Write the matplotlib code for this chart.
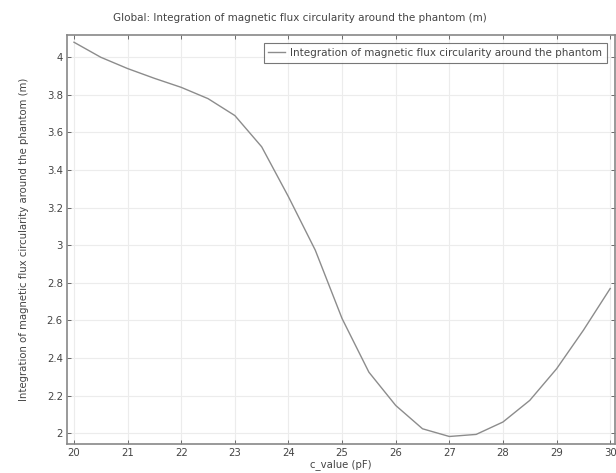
import matplotlib
matplotlib.use('agg')
import matplotlib.pyplot as plt

c_value = [20, 20.5, 21, 21.5, 22, 22.5, 23, 23.5, 24, 24.5, 25, 25.5, 26,
           26.5, 27, 27.5, 28, 28.5, 29, 29.5, 30]
flux = [4.08, 4.00, 3.94, 3.888, 3.84, 3.78, 3.69, 3.524, 3.258, 2.974, 2.61,
        2.325, 2.148, 2.024, 1.983, 1.994, 2.06, 2.175, 2.343, 2.548, 2.77]

x_ticks = list(range(20, 31))
y_ticks = [2, 2.2, 2.4, 2.6, 2.8, 3, 3.2, 3.4, 3.6, 3.8, 4]
y_labels = ['2', '2.2', '2.4', '2.6', '2.8', '3', '3.2', '3.4', '3.6', '3.8', '4']

label = 'Integration of magnetic flux circularity around the phantom'

plt.rcParams['font.family'] = ['DejaVu Sans']
fig = plt.figure(figsize=(6.16, 4.73), dpi=100)
ax = fig.add_axes([0.1088, 0.0613, 0.8896, 0.8653])

ax.plot(c_value, flux, color='#8c8c8c', linewidth=1.0, label=label)

ax.set_xlim(19.87, 30.09)
ax.set_ylim(1.943, 4.12)
ax.set_xticks(x_ticks)
ax.set_yticks(y_ticks)
ax.set_yticklabels(y_labels)
ax.grid(True, color='#ececec', linewidth=0.8)
ax.tick_params(direction='in', length=3, width=0.6, color='#555555',
               labelsize=7.3, labelcolor='#444444', top=True, right=True, pad=3)
for s in ax.spines.values():
    s.set_color('#888888')
    s.set_linewidth(1.2)

ax.set_xlabel('c_value (pF)', fontsize=7.3, color='#444444', va='center')
ax.xaxis.set_label_coords(0.5, -0.051)
ax.set_ylabel(label + ' (m)', fontsize=7.3, color='#444444', va='center')
ax.yaxis.set_label_coords(-0.0785, 0.5)
fig.text(0.486, 0.962, 'Global: ' + label + ' (m)', ha='center', va='center',
         fontsize=7.5, color='#444444')

leg = ax.legend(loc='upper right', fontsize=7.5, frameon=True, fancybox=False,
                edgecolor='#555555', handlelength=1.6, handletextpad=0.5,
                borderpad=0.45, borderaxespad=0, bbox_to_anchor=(0.985, 0.979))
leg.get_frame().set_linewidth(0.8)
for t in leg.get_texts():
    t.set_color('#444444')

fig.savefig('out.png', dpi=100)
